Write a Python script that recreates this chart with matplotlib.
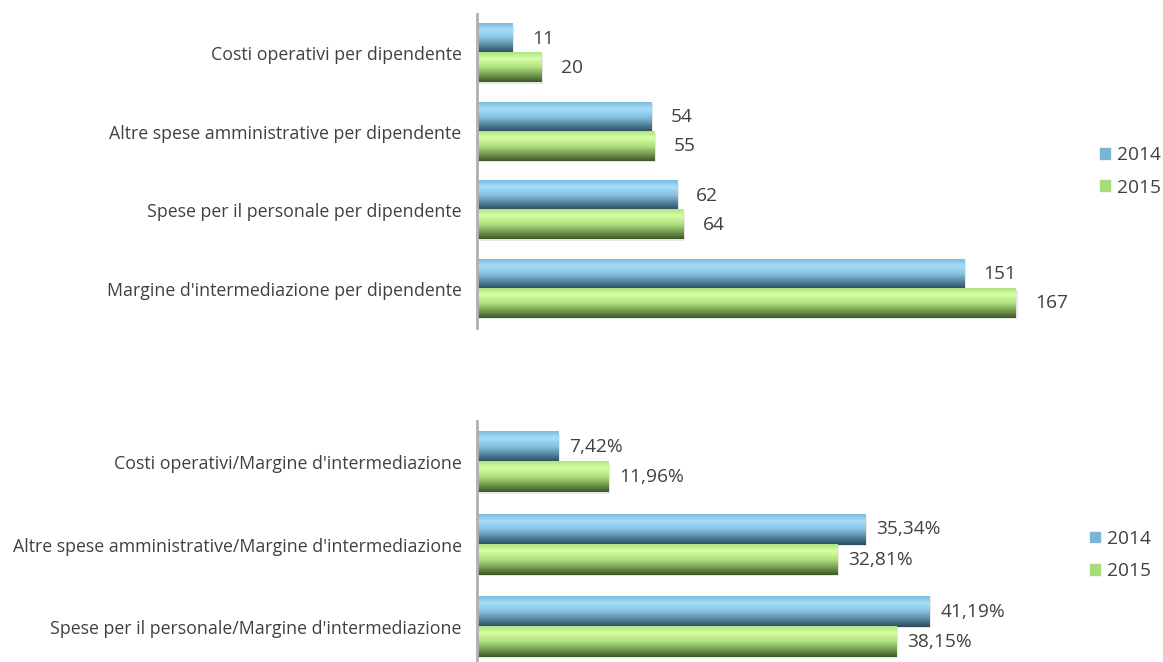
import matplotlib.pyplot as plt
import numpy as np
from matplotlib.colors import LinearSegmentedColormap
from matplotlib.patches import Patch

plt.rcParams['font.family'] = ['Open Sans', 'DejaVu Sans']

# per-employee figures (thousand euro)
top_labels = ['Costi operativi per dipendente',
              'Altre spese amministrative per dipendente',
              'Spese per il personale per dipendente',
              "Margine d'intermediazione per dipendente"]
top_2014 = [11, 54, 62, 151]
top_2015 = [20, 55, 64, 167]

# ratios on intermediation margin (%)
bot_labels = ["Costi operativi/Margine d'intermediazione",
              "Altre spese amministrative/Margine d'intermediazione",
              "Spese per il personale/Margine d'intermediazione"]
bot_2014 = [7.42, 35.34, 41.19]
bot_2015 = [11.96, 32.81, 38.15]

years = ['2014', '2015']

blue_cm = LinearSegmentedColormap.from_list(
    'b', [(0, '#7cbcdc'), (0.22, '#a6defa'), (0.5, '#86c0e0'),
          (0.8, '#4c7a92'), (1, '#2c4a5a')])
green_cm = LinearSegmentedColormap.from_list(
    'g', [(0, '#b2e286'), (0.22, '#d6ffa2'), (0.5, '#b0e080'),
          (0.8, '#6c9248'), (1, '#3e5826')])
grad = np.linspace(0, 1, 64).reshape(-1, 1)

txt = '#404040'


def gradient_bars(ax, bars, cmap):
    for b in bars:
        x0, y0 = b.get_x(), b.get_y()
        w, h = b.get_width(), b.get_height()
        # soft drop shadow
        ax.add_patch(plt.Rectangle((x0, y0 + h * 0.05), w + 0.003 * ax.get_xlim()[1], h,
                                   color='#d8d8d8', alpha=0.6, zorder=1, lw=0))
        ax.imshow(grad, cmap=cmap, aspect='auto', extent=(x0, x0 + w, y0 + h, y0),
                  zorder=2, interpolation='bilinear')
        b.set_visible(False)


def panel(ax, labels, v14, v15, xmax, fmt, off, h):
    y = np.arange(len(labels))
    b1 = ax.barh(y - h / 2, v14, height=h)
    b2 = ax.barh(y + h / 2, v15, height=h)
    ax.set_xlim(0, xmax)
    gradient_bars(ax, b1, blue_cm)
    gradient_bars(ax, b2, green_cm)
    for yy, v in zip(y - h / 2, v14):
        ax.annotate(fmt(v), (v, yy), xytext=(off, 0), textcoords='offset points',
                    va='center', ha='left', fontsize=13.8, color=txt)
    for yy, v in zip(y + h / 2, v15):
        ax.annotate(fmt(v), (v, yy), xytext=(off, 0), textcoords='offset points',
                    va='center', ha='left', fontsize=13.8, color=txt)
    ax.set_yticks(y)
    ax.set_yticklabels(labels, fontsize=12.8, color=txt)
    ax.tick_params(axis='y', length=0, pad=11)
    ax.set_xticks([])
    for s in ['top', 'right', 'bottom']:
        ax.spines[s].set_visible(False)
    ax.spines['left'].set_color('#b0b0b0')
    ax.spines['left'].set_linewidth(2)
    ax.spines['left'].set_zorder(5)


fig = plt.figure(figsize=(11.63, 6.62), dpi=100)

ax1 = fig.add_axes([0.410, 1 - 328 / 662, 0.518, 314 / 662])
panel(ax1, top_labels, top_2014, top_2015, 186.7,
      lambda v: f'{v}', 14, 0.372)
ax1.set_ylim(3.5, -0.5)

ax2 = fig.add_axes([0.410, 1 - 668 / 662, 0.518, 247 / 662])
panel(ax2, bot_labels, bot_2014, bot_2015, 54.8,
      lambda v: f'{v:.2f}'.replace('.', ',') + '%', 8, 0.366)
ax2.set_ylim(2.5, -0.5)

handles = [Patch(color='#7ab4d6'), Patch(color='#a8dc78')]
for xx, yy in ((1100 / 1163, 1 - 171.5 / 662), (1090 / 1163, 1 - 555 / 662)):
    fig.legend(handles, years, loc='center left', bbox_to_anchor=(xx, yy),
               frameon=False, borderpad=0, borderaxespad=0,
               handlelength=0.5, handleheight=0.5, handletextpad=0.4,
               labelspacing=0.75, fontsize=13.8, labelcolor=txt)

fig.savefig('out.png', dpi=100)
